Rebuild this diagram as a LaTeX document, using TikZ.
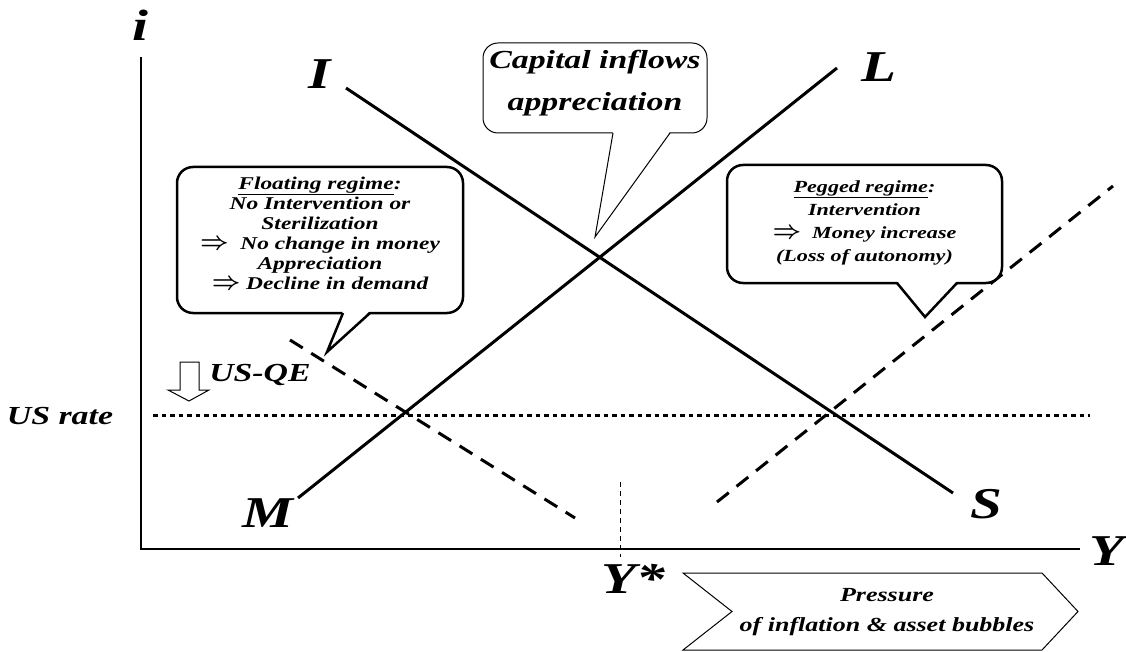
\documentclass[tikz,border=0pt]{standalone}
\usepackage{fontspec}
\setmainfont{Liberation Serif}[FakeStretch=1.3]
\usetikzlibrary{positioning}
\newcommand{\impl}{\smash{\fontsize{24}{20}\selectfont\boldmath$\Rightarrow$}}

\begin{document}
\begin{tikzpicture}[
    x=1pt, y=-1pt,
    every node/.style={inner sep=0pt, font=\bfseries\itshape},
    axislabel/.style={font=\fontsize{44}{50}\selectfont\bfseries\itshape},
    ratelabel/.style={font=\fontsize{26}{30}\selectfont\bfseries\itshape},
    axis/.style={line width=2.5pt},
    schedule/.style={line width=3pt},
    shifted/.style={line width=3pt, dash pattern=on 15pt off 10pt},
    bubble/.style={
        draw,
        fill=white,
        line width=2.5pt,
        rounded corners=16pt,
        align=center
    },
    thinbox/.style={draw, fill=white, line width=1pt}
]
\useasboundingbox (0,0) rectangle (1126,652);

% axes
\coordinate (origin) at (141,549);
\coordinate (itop) at (141,57);
\coordinate (yend) at (1080,549);
\draw[axis] (itop) -- (origin) -- (yend);
\node[axislabel] (ilab) at (140,25) {i};
\node[axislabel, anchor=east] (ylab) at (1125,551) {Y};

% schedules
\coordinate (Iend) at (346,88);
\coordinate (Send) at (953,493);
\coordinate (Mend) at (298,498);
\coordinate (Lend) at (837,68);
\draw[schedule] (Iend) -- (Send);
\draw[schedule] (Mend) -- (Lend);
\node[axislabel] (Ilab) at (320,74) {I};
\node[axislabel] (Slab) at (986,504) {S};
\node[axislabel] (Mlab) at (268,513) {M};
\node[axislabel] (Llab) at (879,67) {L};

\coordinate (fltop) at (290,340);
\coordinate (flbot) at (575,518);
\coordinate (pgbot) at (717,502);
\coordinate (pgtop) at (1113,186);
\draw[shifted] (fltop) -- (flbot);
\draw[shifted] (pgbot) -- (pgtop);

% US rate
\coordinate (usa) at (153,415);
\coordinate (usb) at (1090,415);
\draw[line width=3pt, dash pattern=on 4.5pt off 4pt] (usa) -- (usb);
\node[ratelabel] (uslab) at (60,416) {US rate};
\draw[thinbox] (180,362) -- (199,362) -- (199,390) -- (209,390) -- (189,401)
    -- (168,390) -- (180,390) -- cycle;
\node[ratelabel] (qelab) at (260,375) {US-QE};

% potential output
\coordinate (ysa) at (620,482);
\coordinate (ysb) at (620,557);
\draw[line width=1pt, dash pattern=on 5pt off 4pt] (ysa) -- (ysb);
\node[axislabel] (ystar) at (633,579) {Y*};

% capital inflows
\node[thinbox, rounded corners=15pt, minimum width=224pt, minimum height=90pt]
    (capital) at (595,88) {};
\node[align=center, font=\fontsize{26}{31}\selectfont\bfseries\itshape]
    (capitaltext) at (595,83) {Capital inflows\\[11pt]appreciation};
\coordinate (capa) at (613,133);
\coordinate (capb) at (670,133);
\coordinate (captip) at (595,237);
\fill[white] ([yshift=1.5pt]capa) -- (captip) -- ([yshift=1.5pt]capb) -- cycle;
\draw[line width=1pt] (capa) -- (captip) -- (capb);

% floating regime
\node[bubble, minimum width=286pt, minimum height=146pt] (floating) at (320,240) {};
\node[align=center, font=\fontsize{18}{20}\selectfont\bfseries\itshape]
    (floatingtext) at (320,233)
    {\underline{Floating regime}:\\No Intervention or\\Sterilization\\
     \impl\ \ No change in money\\Appreciation\\
     \impl\ Decline in demand};
\coordinate (fla) at (343,313);
\coordinate (flb) at (370,313);
\coordinate (fltip) at (327,352);
\fill[white] ([yshift=2pt]fla) -- (fltip) -- ([yshift=2pt]flb) -- cycle;
\draw[line width=2.5pt] (fla) -- (fltip) -- (flb);

% pegged regime
\node[bubble, minimum width=275pt, minimum height=118pt] (pegged) at (864.5,224) {};
\node[align=center, font=\fontsize{17}{23}\selectfont\bfseries\itshape]
    (peggedtext) at (864.5,223)
    {\underline{Pegged regime}:\\Intervention\\
     \impl\ \ Money increase\\(Loss of autonomy)};
\coordinate (pga) at (897,283);
\coordinate (pgb) at (957,283);
\coordinate (pgtip) at (925,317);
\fill[white] ([yshift=2pt]pga) -- (pgtip) -- ([yshift=2pt]pgb) -- cycle;
\draw[line width=2.5pt] (pga) -- (pgtip) -- (pgb);

% pressure
\draw[line width=1pt] (683,573) -- (1042,573) -- (1078,611.5) -- (1042,650)
    -- (683,650) -- (732,611.5) -- cycle;
\node[align=center, font=\fontsize{20}{30}\selectfont\bfseries\itshape]
    (pressure) at (887,612) {Pressure\\of inflation \& asset bubbles};
\end{tikzpicture}
\end{document}
